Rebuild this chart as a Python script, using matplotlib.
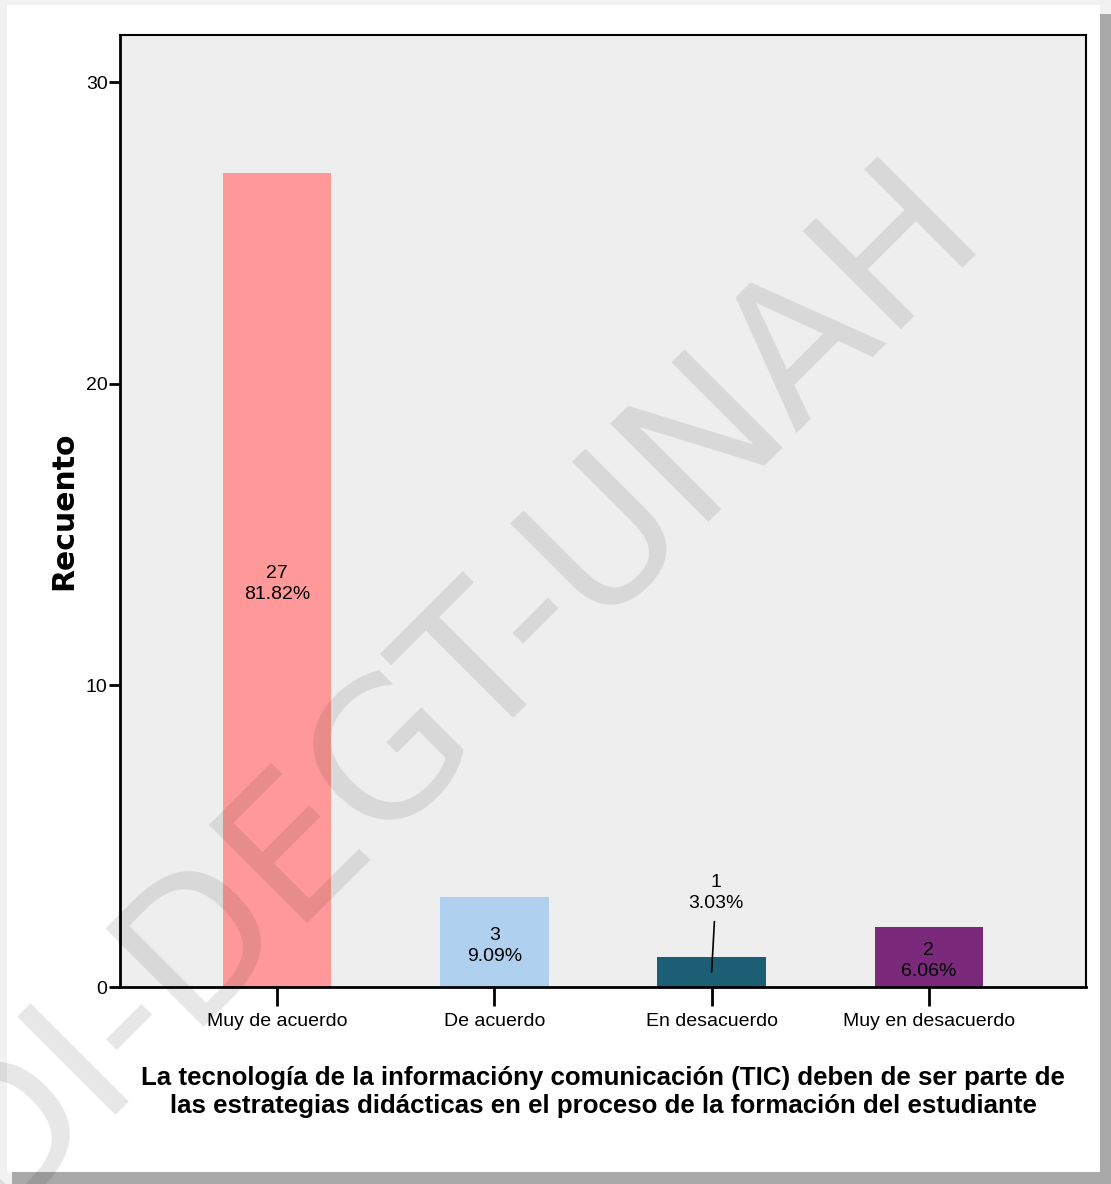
import matplotlib
matplotlib.use("Agg")
import matplotlib.pyplot as plt
from matplotlib.patches import Rectangle

categories = ["Muy de acuerdo", "De acuerdo", "En desacuerdo", "Muy en desacuerdo"]
counts = [27, 3, 1, 2]
percents = ["81.82%", "9.09%", "3.03%", "6.06%"]
colors = ["#ff9999", "#afd1ef", "#1c5f74", "#7b2a7b"]

narrow = ["Liberation Sans", "DejaVu Sans"]

W, H = 1111, 1184
fig = plt.figure(figsize=(W / 100, H / 100), dpi=100, facecolor="#f1f1f1")

# shadow + white page
fig.patches.append(Rectangle((12 / W, 0), (W - 12) / W, (H - 14) / H, transform=fig.transFigure,
                             facecolor="#a9a9a9", edgecolor="none", zorder=-2))
fig.patches.append(Rectangle((7 / W, 12 / H), (1100 - 7) / W, (H - 5 - 12) / H, transform=fig.transFigure,
                             facecolor="white", edgecolor="none", zorder=-1))

ax = fig.add_axes([120 / W, 1 - 987 / H, (1086 - 120) / W, (987 - 35) / H])
ax.set_facecolor("#eeeeee")

x = list(range(len(categories)))
ax.bar(x, counts, width=0.5, color=colors, zorder=2)

ax.set_xlim(-0.723, 3.723)
ax.set_ylim(0, 31.56)
ax.set_yticks([0, 10, 20, 30])
ax.set_xticks(x)
ax.set_xticklabels(categories, fontsize=14, family=narrow)
for lab in ax.get_yticklabels():
    lab.set_fontsize(14)
    lab.set_family(narrow)
ax.tick_params(axis="y", direction="out", length=8, width=2, pad=1)
ax.tick_params(axis="x", direction="out", length=14, width=2, pad=5)
for s in ax.spines.values():
    s.set_linewidth(1.5)
for s in ["left", "bottom"]:
    ax.spines[s].set_linewidth(2)

# value labels
for i, (c, p) in enumerate(zip(counts, percents)):
    txt = "%d\n%s" % (c, p)
    if c == 1:
        ax.annotate(txt, xy=(i, c * 0.5), xytext=(i + 0.02, 3.12), ha="center", va="center",
                    fontsize=14, family=narrow, linespacing=1.3, zorder=4,
                    arrowprops=dict(arrowstyle="-", color="black", lw=1.2, shrinkA=5, shrinkB=0))
    else:
        ax.text(i, c * 0.5 - 0.15, txt, ha="center", va="center",
                fontsize=14, family=narrow, linespacing=1.3, zorder=4)

ax.set_ylabel("Recuento", fontsize=21.5, fontweight="bold", family="DejaVu Sans")
ax.yaxis.set_label_coords(-0.043, 0.5)
fig.text(603 / W, 1 - 1092 / H,
         "La tecnología de la informacióny comunicación (TIC) deben de ser parte de\n"
         "las estrategias didácticas en el proceso de la formación del estudiante",
         ha="center", va="center", fontsize=18.6, fontweight="bold", family=narrow, linespacing=1.2)

# watermark
fig.text(452 / W, 1 - 686 / H, "DI-DEGT-UNAH", rotation=45, ha="center", va="center",
         fontsize=137, color="#101010", alpha=0.1, zorder=10, rotation_mode="anchor")

fig.savefig("out.png", dpi=100, facecolor=fig.get_facecolor())
